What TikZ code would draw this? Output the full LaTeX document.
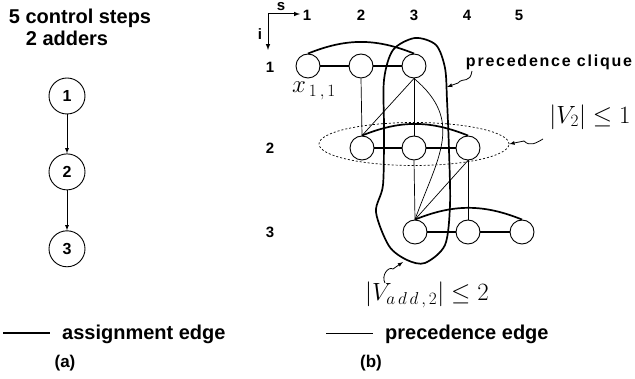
\documentclass[tikz,border=0pt]{standalone}
\usepackage{fontspec}
\setsansfont{Liberation Sans}
\usetikzlibrary{positioning,shapes.geometric}
\newcommand{\fz}[1]{\fontsize{#1}{#1}\selectfont}

\begin{document}
\begin{tikzpicture}[x=1pt,y=1pt,font=\sffamily\bfseries,
 v/.style={draw,circle,line width=0.9pt,minimum size=24pt,inner sep=0pt},
 op/.style={draw,circle,line width=0.9pt,minimum size=36pt,inner sep=0pt,font=\sffamily\bfseries\fz{16}},
 asg/.style={line width=1.7pt},
 prc/.style={line width=0.7pt},
 ptr/.style={-latex,line width=0.8pt},
 hd/.style={font=\sffamily\bfseries\fz{15},inner sep=0pt},
 lg/.style={font=\sffamily\bfseries\fz{20},inner sep=0pt,anchor=west},
 mth/.style={font=\fz{24},inner sep=0pt}]
 \useasboundingbox (0,0) rectangle (635,-379);
 % (a) the data flow graph
 \node[font=\sffamily\bfseries\fz{20},inner sep=0pt](ttl) at (80,-18){5 control steps};
 \node[font=\sffamily\bfseries\fz{20},inner sep=0pt](add) at (67,-38){2 adders};
 \node[op](o1) at (67,-96){1};
 \node[op,below=39pt of o1](o2){2};
 \node[op,below=40pt of o2](o3){3};
 \draw[-latex,line width=0.8pt](o1)--(o2);
 \draw[-latex,line width=0.8pt](o2)--(o3);
 % (b) axes and grid labels
 \coordinate(org) at (268,-14);
 \coordinate(send) at (300,-14);
 \coordinate(iend) at (268,-50);
 \draw[-latex,line width=1pt](org)--(send);
 \draw[-latex,line width=1pt](org)--(iend);
 \node[hd](s) at (281,-7){s};
 \node[hd](i) at (260,-34){i};
 \node[hd](c1) at (307,-15){1};
 \node[hd](c2) at (361,-15){2};
 \node[hd](c3) at (414,-15){3};
 \node[hd](c4) at (467,-15){4};
 \node[hd](c5) at (519,-15){5};
 \node[hd](r1) at (270,-67){1};
 \node[hd](r2) at (270,-148){2};
 \node[hd](r3) at (270,-232){3};
 % variables x_{i,s}
 \node[v](x11) at (308,-66){};
 \node[v](x12) at (361,-66){};
 \node[v](x13) at (414,-66){};
 \node[v](x22) at (362,-148){};
 \node[v](x23) at (414,-148){};
 \node[v](x24) at (468,-148){};
 \node[v](x33) at (415,-232){};
 \node[v](x34) at (468,-232){};
 \node[v](x35) at (522,-232){};
 \node[mth,font=\fz{23}](xl) at (314,-91){$x_{\,1\,,\,1}$};
 % assignment edges
 \draw[asg](x11)--(x12);
 \draw[asg](x12)--(x13);
 \draw[asg](x11.north) to[bend left=22] (x13.north);
 \draw[asg](x22)--(x23);
 \draw[asg](x23)--(x24);
 \draw[asg](x22.north) to[bend left=22] (x24.north);
 \draw[asg](x33)--(x34);
 \draw[asg](x34)--(x35);
 \draw[asg](x33.north) to[bend left=22] (x35.north);
 % precedence edges
 \draw[prc](x12.south)--(x22.north);
 \draw[prc](x13.south)--(x22.north);
 \draw[prc](x13.south)--(x23.north);
 \draw[prc](x13.south) to[out=-40,in=70,looseness=1.2] (x33.north);
 \draw[prc](x23.south)--(x33.north);
 \draw[prc](x24.south)--(x33.north);
 \draw[prc](x24.south)--(x34.north);
 % step set and clique
 \node[draw,ellipse,line width=0.7pt,dash pattern=on 2pt off 2pt,minimum width=190pt,minimum height=43pt,inner sep=0pt](v2set) at (414,-144){};
 \draw[asg] plot[smooth cycle] coordinates {(415,-38) (436,-45) (445,-68) (447,-100) (449,-150) (450,-205) (445,-245) (425,-263) (407,-260) (389,-246) (376,-212) (383,-185) (384,-130) (384,-80) (393,-50)};
 \node[font=\sffamily\bfseries\fz{16}\addfontfeatures{LetterSpace=11},inner sep=0pt](pcl) at (549,-62){precedence clique};
 \node[mth](v2l) at (590,-117){$|V_2|\leq 1$};
 \node[mth](val) at (427,-295){$|V_{a\,d\,d\,,\,2}|\leq 2$};
 \coordinate(pcs) at (472,-71);
 \coordinate(cqtip) at (447,-87);
 \coordinate(v2s) at (543,-139);
 \coordinate(vas) at (385,-283);
 \coordinate(vatip) at (403,-262);
 \draw[ptr](pcs) .. controls (470,-84) and (463,-77) .. (458,-83)--(cqtip);
 \draw[ptr](v2s) .. controls (536,-143) and (530,-147) .. (524,-141)--(v2set.east);
 \draw[ptr](vas) .. controls (381,-276) and (388,-266) .. (393,-269)--(vatip);
 % legend
 \node[lg](lasg) at (62,-334){assignment edge};
 \node[lg](lprc) at (385,-334){precedence edge};
 \draw[asg]([xshift=-59pt,yshift=1pt]lasg.west)--([xshift=-12pt,yshift=1pt]lasg.west);
 \draw[prc]([xshift=-59pt,yshift=1pt]lprc.west)--([xshift=-12pt,yshift=1pt]lprc.west);
 \node[font=\sffamily\bfseries\fz{17},inner sep=0pt](pa) at (65,-363){(a)};
 \node[font=\sffamily\bfseries\fz{17},inner sep=0pt](pb) at (371,-363){(b)};
\end{tikzpicture}
\end{document}
